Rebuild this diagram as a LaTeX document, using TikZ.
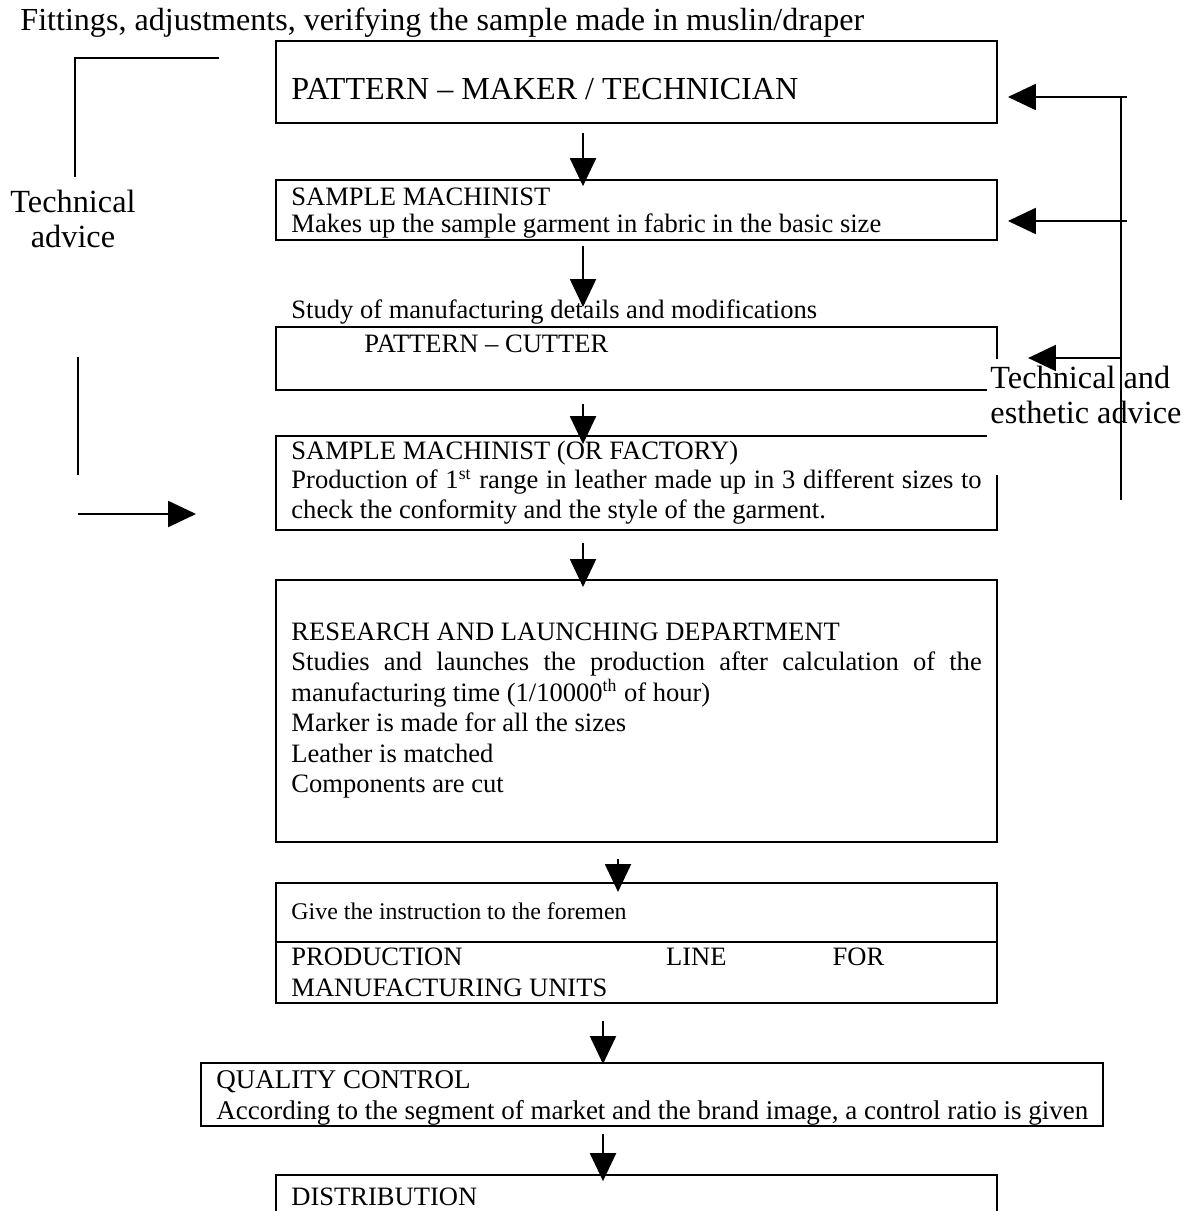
\documentclass[tikz,border=0pt]{standalone}
\usepackage{fontspec}
\setmainfont{Liberation Serif}
\usepackage{tikz}
\usetikzlibrary{arrows.meta, fit}

\begin{document}
\begin{tikzpicture}[
  x=0.452pt, y=-0.452pt,
  box/.style={rectangle, draw, line width=0.9pt, inner sep=0pt},
  txt/.style={anchor=base west, inner sep=0pt, align=left,
              font=\fontsize{12}{13.4}\selectfont},
  big/.style={inner sep=0pt, font=\fontsize{14.5}{16}\selectfont},
  side/.style={inner sep=0pt, align=center, font=\fontsize{14.6}{15.8}\selectfont},
  arr/.style={-{Triangle[length=12.6pt, width=11.8pt]}, line width=0.7pt},
  ln/.style={line width=0.7pt},
]
\useasboundingbox (0,0) rectangle (1188,1211);

%% Boxes
\node[box, fit={(276,41) (997,123)}]    (pm)  {};
\node[box, fit={(276,180) (997,240)}]   (sm)  {};
\node[box, fit={(276,327) (997,390)}]   (pc)  {};
\node[box, fit={(276,436) (997,530)}]   (smf) {};
\node[box, fit={(276,580) (997,842)}]   (rl)  {};
\node[box, fit={(276,883) (997,942)}]   (gi)  {};
\node[box, fit={(276,942) (997,1003)}]  (pl)  {};
\node[box, fit={(201,1063) (1103,1126)}] (qc) {};
\node[box, fit={(276,1175) (997,1230)}] (ds)  {};

%% Texts (align=left nodes sit on their last baseline, text width ones on the first)
\node[big, anchor=base west] (title) at (20,31)
  {Fittings, adjustments, verifying the sample made in muslin/draper};
\node[big, anchor=base west] (pmt) at (291,100) {PATTERN -- MAKER / TECHNICIAN};
\node[txt, font=\fontsize{12}{12.6}\selectfont] (smt) at (291,233)
  {SAMPLE MACHINIST\\Makes up the sample garment in fabric in the basic size};
\node[txt] (study) at (291,318) {Study of manufacturing details and modifications};
\node[txt] (pct) at (364,352) {PATTERN -- CUTTER};
\node[txt, text width=312pt, align=justify] (smft) at (291,459)
  {SAMPLE MACHINIST (OR FACTORY)\\Production of 1\textsuperscript{st} range in leather made up in 3 different sizes to\linebreak
   check the conformity and the style of the garment.};
\node[txt, text width=312pt, align=justify, font=\fontsize{12}{13.8}\selectfont] (rlt) at (291,640)
  {RESEARCH AND LAUNCHING DEPARTMENT\\Studies and launches the production after calculation of the\linebreak
   manufacturing time (1/10000\textsuperscript{th} of hour)\\Marker is made for all the sizes\\Leather is matched\\Components are cut};
\node[txt, font=\fontsize{10.8}{13}\selectfont] (git) at (291,919) {Give the instruction to the foremen};
\node[txt, font=\fontsize{12}{13.6}\selectfont] (plt) at (291,996)
  {PRODUCTION\hspace{92pt}LINE\hspace{48pt}FOR\\MANUFACTURING UNITS};
\node[txt, font=\fontsize{12.2}{13.6}\selectfont] (qct) at (216,1119)
  {QUALITY CONTROL\\According to the segment of market and the brand image, a control ratio is given};
\node[txt] (dst) at (291,1205) {DISTRIBUTION};

%% Side advice
\node[side, anchor=north] (tadv) at (73,190) {Technical\\advice};
\fill[white] (987,359) rectangle (1180,475);
\node[side, anchor=north west, align=left] (teadv) at (990,366) {Technical and\\esthetic advice};

%% Coordinates
\coordinate (colA) at (583,0);
\coordinate (colB) at (618,0);
\coordinate (colC) at (603,0);
\coordinate (r1) at (1127,97);
\coordinate (r2) at (1127,221);
\coordinate (r3) at (1121,358);
\coordinate (rtop) at (1121,97);
\coordinate (rbot) at (1121,500);
\coordinate (lb1) at (219,58);
\coordinate (lb2) at (75,58);
\coordinate (lb3) at (75,177);
\coordinate (lv1) at (78,357);
\coordinate (lv2) at (78,475);
\coordinate (la) at (78,514);

%% Edges
\draw[arr, shorten <=4.1pt, shorten >=-3.2pt] (pm.south -| colA)  -- (sm.north -| colA);
\draw[arr, shorten <=2.2pt, shorten >=8.6pt]  (sm.south -| colA)  -- (pc.north -| colA);
\draw[arr, shorten <=5.9pt, shorten >=-4.1pt] (pc.south -| colA)  -- (smf.north -| colA);
\draw[arr, shorten <=5.4pt, shorten >=-3.6pt] (smf.south -| colA) -- (rl.north -| colA);
\draw[arr, shorten <=7.2pt, shorten >=-4.5pt] (rl.south -| colB)  -- (gi.north -| colB);
\draw[arr, shorten <=7.7pt, shorten >=-0.9pt] (pl.south -| colC)  -- (qc.north -| colC);
\draw[arr, shorten <=3.2pt, shorten >=-3.2pt] (qc.south -| colC)  -- (ds.north -| colC);

\draw[ln] (rtop) -- (rbot);
\draw[arr, shorten >=4.5pt]  (r1) -- (pm.east |- r1);
\draw[arr, shorten >=4.5pt]  (r2) -- (sm.east |- r2);
\draw[arr, shorten >=13.6pt] (r3) -- (pc.east |- r3);

\draw[ln] (lb1) -- (lb2) -- (lb3);
\draw[ln] (lv1) -- (lv2);
\draw[arr, shorten >=35.7pt] (la) -- (smf.west |- la);
\end{tikzpicture}
\end{document}
